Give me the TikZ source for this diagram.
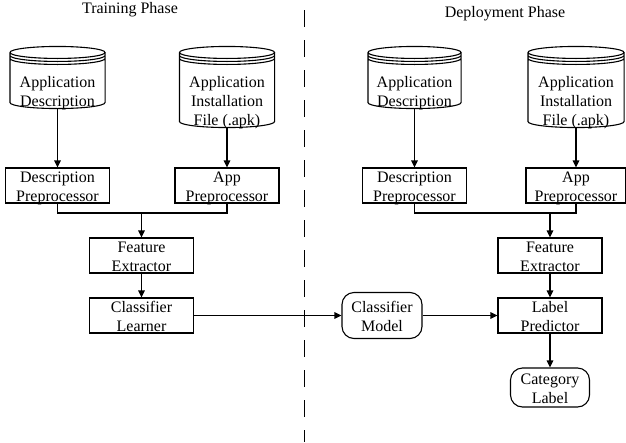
\documentclass[tikz,border=0pt]{standalone}
\usepackage{fontspec}
\setmainfont{Liberation Serif}
\usetikzlibrary{arrows.meta,calc}

% two-line label: fixed first-line height, second line without depth
\newcommand\twolines[2]{\rule{0pt}{13pt}#1\\\smash{#2}}
% storage labels sit low inside the drum
\newcommand\drumtwo[2]{\rule{0pt}{38pt}#1\\\smash{#2}}
\newcommand\drumthree[3]{\rule{0pt}{38pt}#1\\#2\\\smash{#3}}

% stacked-disk outline around a named node
\newcommand\drumoutline[1]{%
  \draw let \p1=(#1.north west), \p2=(#1.south east), \n1={(\x2-\x1)/2} in
    (\x1,\y1-6pt) arc[start angle=180,end angle=-180,x radius=\n1,y radius=6pt]
    (\x1,\y1-6pt) -- (\x1,\y2+6pt)
      arc[start angle=180,end angle=360,x radius=\n1,y radius=6pt] -- (\x2,\y1-6pt)
    (\x1,\y1-9pt) arc[start angle=180,end angle=360,x radius=\n1,y radius=6pt]
    (\x1,\y1-12pt) arc[start angle=180,end angle=360,x radius=\n1,y radius=6pt];
}

\begin{document}
\begin{tikzpicture}[x=1pt,y=-1pt,line width=1.1pt,
  font=\fontsize{16}{19}\selectfont,
  box/.style={draw,rectangle,inner sep=0pt,minimum width=104pt,minimum height=35pt,align=center},
  pill/.style={draw,rectangle,rounded corners=12pt,inner sep=0pt,align=center},
  drum/.style={rectangle,inner sep=0pt,align=center},
  title/.style={anchor=base,inner sep=0pt},
  flow/.style={-{Triangle[length=7pt,width=6.5pt]}},
  divider/.style={dash pattern=on 17pt off 13pt}]

\useasboundingbox (0,0) rectangle (626,442);

% phase titles and divider
\node[title] (trainT) at (130,13) {Training Phase};
\node[title] (deployT) at (505,17.5) {Deployment Phase};
\coordinate (divTop) at (304.5,10);
\coordinate (divBot) at (304.5,442);
\draw[divider] (divTop) -- (divBot);

% training side
\node[drum,minimum width=94pt,minimum height=61pt] (descL) at (57.5,77.5)
  {\drumtwo{Application}{Description}};
\node[drum,minimum width=94pt,minimum height=80pt] (apkL) at (227,87)
  {\drumthree{Application}{Installation}{File (.apk)}};
\drumoutline{descL}
\drumoutline{apkL}
\node[box] (dpL) at (57.5,185.5) {\twolines{Description}{Preprocessor}};
\node[box] (apL) at (227,185.5) {\twolines{App}{Preprocessor}};
\node[box] (feL) at (141.5,255.5) {\twolines{Feature}{Extractor}};
\node[box] (clL) at (141.5,315.5) {\twolines{Classifier}{Learner}};
\coordinate (mL) at (141.5,213);

% deployment side
\node[drum,minimum width=92pt,minimum height=61pt] (descR) at (414.5,77.5)
  {\drumtwo{Application}{Description}};
\node[drum,minimum width=95pt,minimum height=80pt] (apkR) at (576,87)
  {\drumthree{Application}{Installation}{File (.apk)}};
\drumoutline{descR}
\drumoutline{apkR}
\node[box] (dpR) at (414.5,185.5) {\twolines{Description}{Preprocessor}};
\node[box,minimum width=100pt] (apR) at (576,185.5) {\twolines{App}{Preprocessor}};
\node[box] (feR) at (550,255.5) {\twolines{Feature}{Extractor}};
\node[box] (lp) at (550,315.5) {\twolines{Label}{Predictor}};
\node[pill,minimum width=80pt,minimum height=46pt] (cm) at (382,315.5)
  {\twolines{Classifier}{Model}};
\node[pill,minimum width=79pt,minimum height=39pt] (cat) at (550,387.5)
  {\twolines{Category}{Label}};
\coordinate (mR) at (550,213);

% training connectors
\draw[flow] (descL) -- (dpL);
\draw[flow] (apkL) -- (apL);
\draw (dpL.south) |- (mL) -| (apL.south);
\draw[flow] (mL) -- (feL);
\draw[flow] (feL) -- (clL);

% deployment connectors
\draw[flow] (descR) -- (dpR);
\draw[flow] (apkR) -- (apR);
\draw (dpR.south) |- (mR) -| (apR.south);
\draw[flow] (mR) -- (feR);
\draw[flow] (feR) -- (lp);
\draw[flow] (lp) -- (cat);

% model hand-over
\draw[flow] (clL) -- (cm);
\draw[flow] (cm) -- (lp);
\end{tikzpicture}
\end{document}
